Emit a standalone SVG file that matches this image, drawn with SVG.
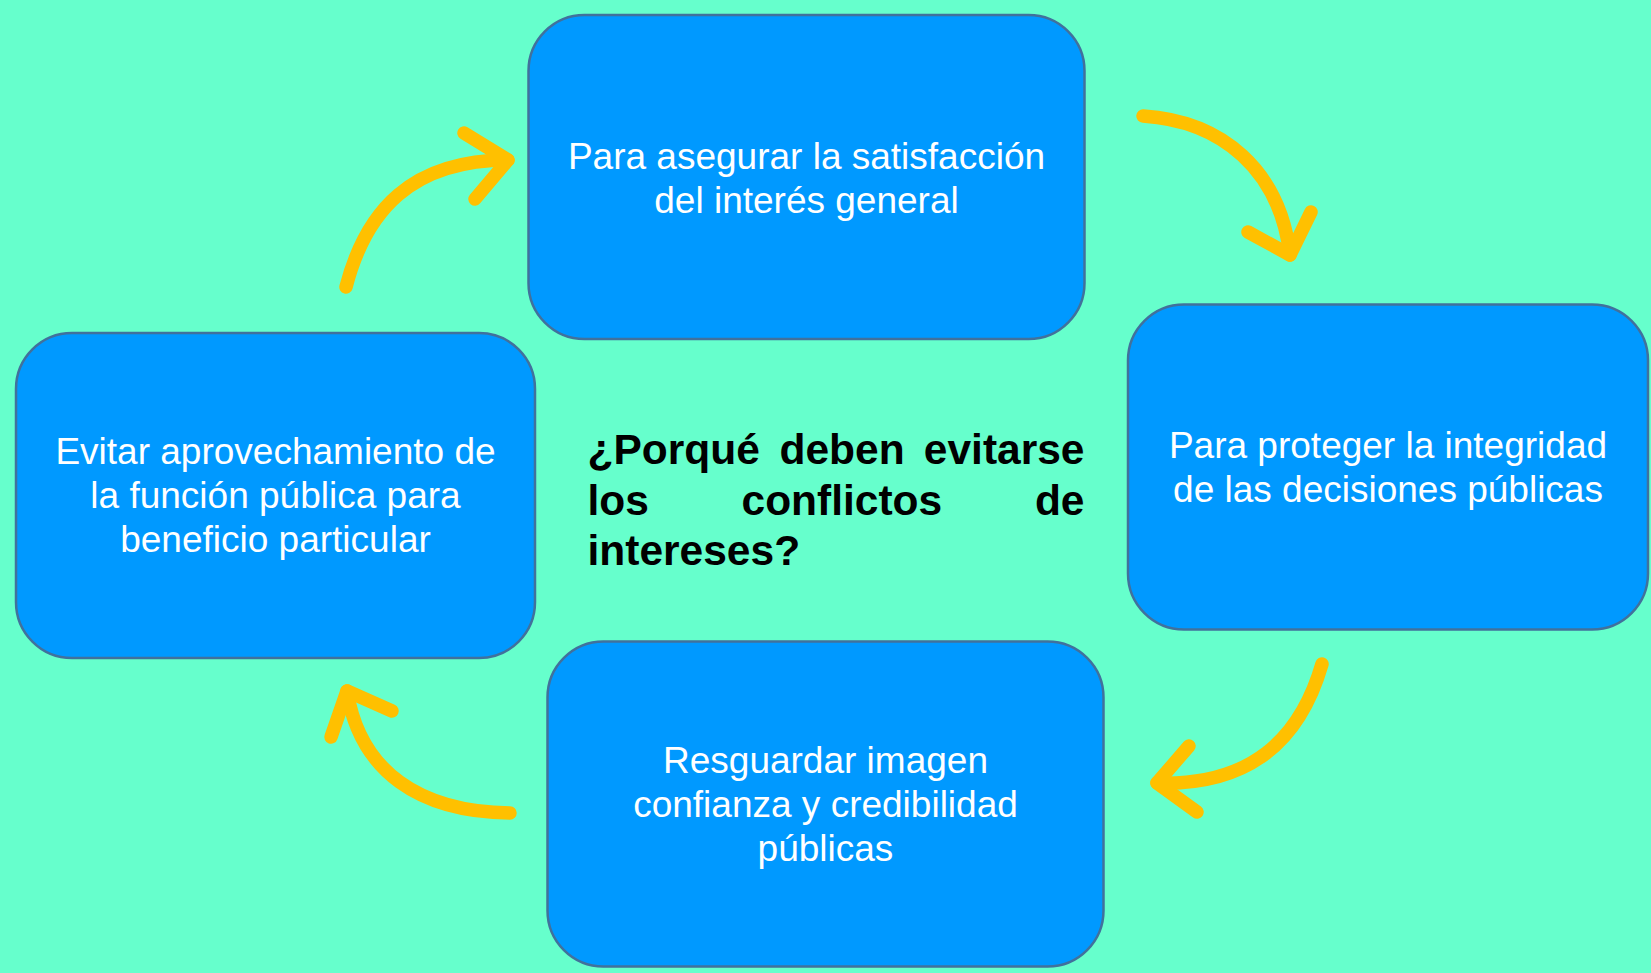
<svg xmlns="http://www.w3.org/2000/svg" width="1651" height="973" viewBox="0 0 1651 973">
<style>
.box{fill:#0099FF;stroke:#41719C;stroke-width:2.5}
.lbl{font-family:"Liberation Sans",Arial,sans-serif;font-size:37px;fill:#FFFFFF;text-anchor:middle}
.q{font-family:"Liberation Sans",Arial,sans-serif;font-size:42.5px;font-weight:bold;fill:#000000}
.arr{fill:none;stroke:#FFC000;stroke-width:13.5;stroke-linecap:round;stroke-linejoin:round}
</style>
<rect x="0" y="0" width="1651" height="973" fill="#66FFCC"/>
<g id="node-top">
<rect class="box" x="528.5" y="15" width="556" height="324" rx="56"/>
<text class="lbl" x="806.5" y="168.5">Para asegurar la satisfacción</text>
<text class="lbl" x="806.5" y="212.5">del interés general</text>
</g>
<g id="node-right">
<rect class="box" x="1128" y="304.5" width="520" height="325" rx="56"/>
<text class="lbl" x="1388" y="458">Para proteger la integridad</text>
<text class="lbl" x="1388" y="502">de las decisiones públicas</text>
</g>
<g id="node-bottom">
<rect class="box" x="547.5" y="641.5" width="556" height="325" rx="56"/>
<text class="lbl" x="825.5" y="773">Resguardar imagen</text>
<text class="lbl" x="825.5" y="817">confianza y credibilidad</text>
<text class="lbl" x="825.5" y="861">públicas</text>
</g>
<g id="node-left">
<rect class="box" x="16" y="333" width="519" height="325" rx="56"/>
<text class="lbl" x="275.5" y="463.5">Evitar aprovechamiento de</text>
<text class="lbl" x="275.5" y="507.5">la función pública para</text>
<text class="lbl" x="275.5" y="551.5">beneficio particular</text>
</g>
<g id="node-center">
<text class="q" y="464"><tspan x="587.5">¿Porqué</tspan><tspan x="779.5">deben</tspan><tspan x="1084.5" text-anchor="end">evitarse</tspan></text>
<text class="q" y="514.5"><tspan x="587.5">los</tspan><tspan x="741.5">conflictos</tspan><tspan x="1084.5" text-anchor="end">de</tspan></text>
<text class="q" y="565"><tspan x="587.5">intereses?</tspan></text>
</g>
<g id="connectors">
<path class="arr" d="M346,287 C366,210 412,160 508,160"/>
<polyline class="arr" points="464,133 508,160 475,199"/>
<path class="arr" d="M1143,116 C1222,121 1280,170 1290,255"/>
<polyline class="arr" points="1248,232 1290,255 1311,212"/>
<path class="arr" d="M1322,664 C1300,740 1250,786 1157,783"/>
<polyline class="arr" points="1189,746 1157,783 1197,812"/>
<path class="arr" d="M510,813 C420,812 360,772 347,691"/>
<polyline class="arr" points="331,737 347,691 392,711"/>
</g>
</svg>
